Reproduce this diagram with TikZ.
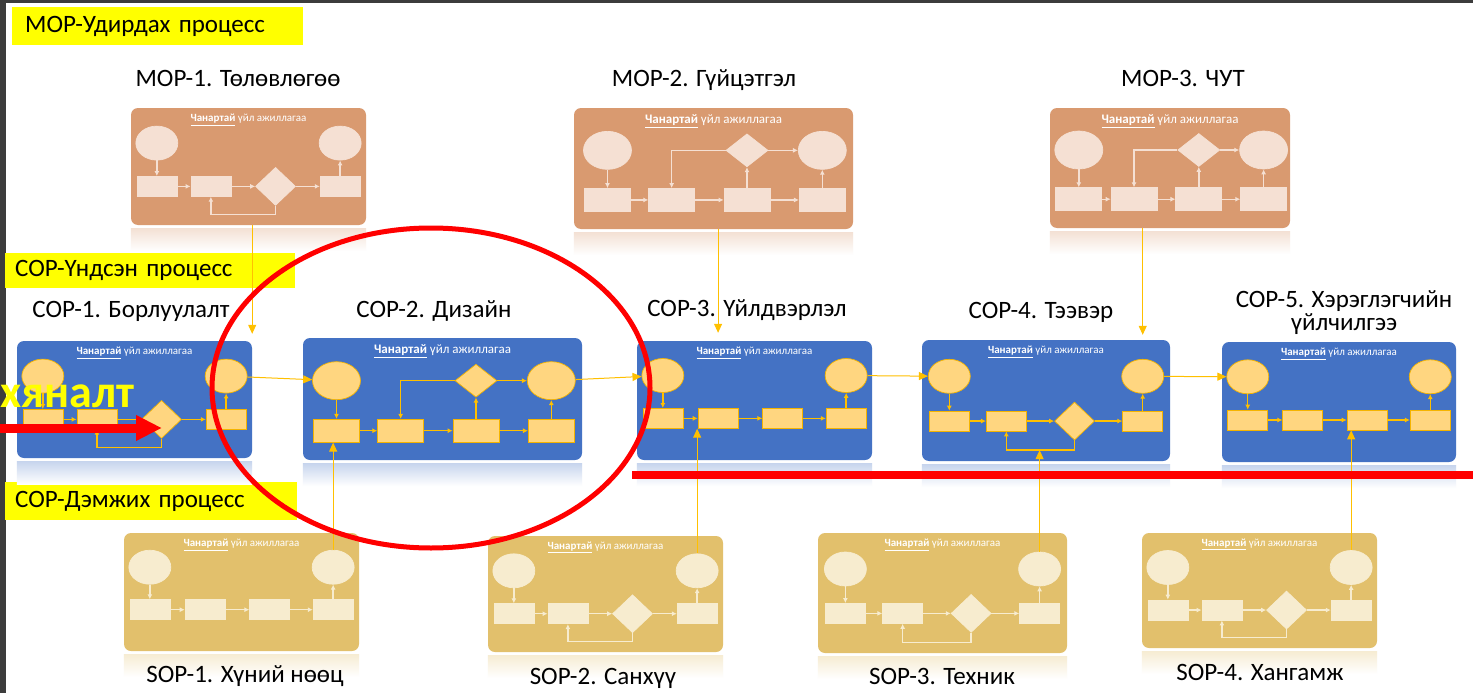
\documentclass[tikz,border=0pt]{standalone}
\usepackage{fontspec}
\setmainfont{Carlito}
\usetikzlibrary{shapes.geometric, arrows.meta, positioning, fit}

\definecolor{mopbg}{HTML}{D99A70}
\definecolor{mopsh}{HTML}{F5E0D3}
\definecolor{mopdr}{HTML}{F5E0D3}
\definecolor{mopln}{HTML}{F5E0D3}
\definecolor{copbg}{HTML}{4472C4}
\definecolor{copsh}{HTML}{FFD680}
\definecolor{copdr}{HTML}{F5B400}
\definecolor{copln}{HTML}{FFC000}
\definecolor{sopbg}{HTML}{E2C06C}
\definecolor{sopsh}{HTML}{F7ECCF}
\definecolor{sopdr}{HTML}{F7ECCF}
\definecolor{sopln}{HTML}{F7ECCF}
\definecolor{linkc}{HTML}{FFC000}
\definecolor{hilite}{HTML}{FFFF00}
\definecolor{edgegray}{HTML}{3C3C3C}

\newcommand\qhead{\underline{\textbf{Чанартай}} үйл ажиллагаа}

\tikzset{
  qbox/.style={inner sep=0pt, rounded corners=7pt},
  qshape/.style={fill=#1sh, draw=#1dr, line width=0.7pt, inner sep=0pt},
  qell/.style={ellipse, minimum width=42pt, minimum height=34pt},
  qrect/.style={rectangle, minimum width=40pt, minimum height=20pt},
  qdia/.style={diamond, minimum width=40pt, minimum height=38pt},
  qellb/.style={ellipse, minimum width=48pt, minimum height=38pt},
  qrectb/.style={rectangle, minimum width=46pt, minimum height=23pt},
  qdiab/.style={diamond, minimum width=42pt, minimum height=33pt},
  qline/.style={draw=#1ln, line width=1.4pt, -{Latex[length=5pt,width=5pt]}},
  qtext/.style={text=white, inner sep=0pt, font=\fontsize{11}{13}\selectfont},
  qshadow/.style={top color=#1bg!30, bottom color=white},
  ttl/.style={font=\fontsize{25}{23}\selectfont, inner sep=0pt},
  tag/.style={fill=hilite, anchor=north west, inner xsep=10pt, inner ysep=0pt,
    align=left, font=\fontsize{25}{26}\selectfont},
  link/.style={draw=linkc, line width=1pt, -{Triangle[length=9pt,width=8pt]}},
  redbar/.style={draw=red, line width=8pt},
  redarrow/.style={draw=red, line width=9pt, -{Triangle[length=26pt,width=24pt]}},
  focus/.style={draw=red, line width=5pt, ellipse, inner sep=0pt,
    minimum width=438pt, minimum height=320pt},
  % ellipse, rects, diamond and a loop back
  flowA/.pic={
    \node[qbox, fit={(0,0)(1,1)}, fill=#1bg] (box) {};
    \shade[qshadow=#1] ([yshift=-3pt]box.south west) rectangle ([yshift=-26pt]box.south east);
    \node[qtext] (head) at (0.5,0.1) {\qhead};
    \node[qell, qshape=#1] (e1) at (0.11,0.3) {};
    \node[qell, qshape=#1] (e2) at (0.89,0.3) {};
    \node[qrect, qshape=#1] (r1) at (0.11,0.67) {};
    \node[qrect, qshape=#1] (r2) at (0.34,0.67) {};
    \node[qdia, qshape=#1] (d) at (0.615,0.67) {};
    \node[qrect, qshape=#1] (r4) at (0.89,0.67) {};
    \coordinate (lp) at (0.48,0.91);
    \draw[qline=#1] (e1) -- (r1);
    \draw[qline=#1] (r1) -- (r2);
    \draw[qline=#1] (r2) -- (d);
    \draw[qline=#1] (d) -- (r4);
    \draw[qline=#1] (r4) -- (e2);
    \draw[qline=#1] (d.south) |- (lp) -| (r2.south);
  },
  % four rects, diamond on top
  flowB/.pic={
    \node[qbox, fit={(0,0)(1,1)}, fill=#1bg] (box) {};
    \shade[qshadow=#1] ([yshift=-3pt]box.south west) rectangle ([yshift=-26pt]box.south east);
    \node[qtext, font=\fontsize{13}{15}\selectfont] (head) at (0.5,0.11) {\qhead};
    \node[qellb, qshape=#1] (e1) at (0.12,0.35) {};
    \node[qellb, qshape=#1] (e2) at (0.89,0.35) {};
    \node[qdiab, qshape=#1] (d) at (0.62,0.35) {};
    \node[qrectb, qshape=#1] (r1) at (0.12,0.76) {};
    \node[qrectb, qshape=#1] (r2) at (0.35,0.76) {};
    \node[qrectb, qshape=#1] (r3) at (0.62,0.76) {};
    \node[qrectb, qshape=#1] (r4) at (0.89,0.76) {};
    \draw[qline=#1] (e1) -- (r1);
    \draw[qline=#1] (r1) -- (r2);
    \draw[qline=#1] (r2) -- (r3);
    \draw[qline=#1] (r3) -- (r4);
    \draw[qline=#1] (r3) -- (d);
    \draw[qline=#1] (d) -- (e2);
    \draw[qline=#1] (r4) -- (e2);
    \draw[qline=#1] (d.west) -| (r2.north);
  },
  % straight chain
  flowD/.pic={
    \node[qbox, fit={(0,0)(1,1)}, fill=#1bg] (box) {};
    \shade[qshadow=#1] ([yshift=-3pt]box.south west) rectangle ([yshift=-26pt]box.south east);
    \node[qtext] (head) at (0.5,0.1) {\qhead};
    \node[qell, qshape=#1] (e1) at (0.11,0.29) {};
    \node[qell, qshape=#1] (e2) at (0.89,0.29) {};
    \node[qrect, qshape=#1] (r1) at (0.11,0.65) {};
    \node[qrect, qshape=#1] (r2) at (0.345,0.65) {};
    \node[qrect, qshape=#1] (r3) at (0.62,0.65) {};
    \node[qrect, qshape=#1] (r4) at (0.89,0.65) {};
    \draw[qline=#1] (e1) -- (r1);
    \draw[qline=#1] (r1) -- (r2);
    \draw[qline=#1] (r2) -- (r3);
    \draw[qline=#1] (r3) -- (r4);
    \draw[qline=#1] (r4) -- (e2);
  }
}

\begin{document}
\begin{tikzpicture}[x=1pt, y=-1pt]
    \useasboundingbox (0,0) rectangle (1473,693);
    \fill[white] (0,0) rectangle (1473,693);
    \fill[edgegray] (0,0) rectangle (6,693);
    \fill[edgegray] (0,0) rectangle (1473,3);

    % group labels
    \node[tag, inner xsep=13pt, text width=265pt, minimum height=38pt] (moptag) at (12,7) {MOP-Удирдах процесс};
    \node[tag, text width=270pt, minimum height=35pt] (coptag) at (5,253) {COP-Үндсэн процесс};
    \node[tag, text width=272pt, minimum height=38pt] (soptag) at (5,482) {COP-Дэмжих процесс};

    % titles
    \node[ttl, anchor=base] (mop1t) at (238,86) {MOP-1. Төлөвлөгөө};
    \node[ttl, anchor=base] (mop2t) at (704,87) {MOP-2. Гүйцэтгэл};
    \node[ttl, anchor=base] (mop3t) at (1183,87) {MOP-3. ЧУТ};
    \node[ttl, anchor=base] (cop1t) at (131,317) {COP-1. Борлуулалт};
    \node[ttl, anchor=base] (cop2t) at (434,317) {COP-2. Дизайн};
    \node[ttl, anchor=base] (cop3t) at (747,316) {COP-3. Үйлдвэрлэл};
    \node[ttl, anchor=base] (cop4t) at (1041,318) {COP-4. Тээвэр};
    \node[ttl, align=center] (cop5t) at (1344,313) {COP-5. Хэрэглэгчийн\\үйлчилгээ};

    % process boxes
    \pic[x=235pt, y=-117pt] (mop1) at (131pt,-108pt) {flowA=mop};
    \pic[x=279pt, y=-121pt] (mop2) at (574pt,-108pt) {flowB=mop};
    \pic[x=240pt, y=-120pt] (mop3) at (1050pt,-108pt) {flowB=mop};
    \pic[x=235pt, y=-117pt] (cop1) at (17pt,-341pt) {flowA=cop};
    \pic[x=279pt, y=-122pt] (cop2) at (303pt,-338pt) {flowB=cop};
    \pic[x=235pt, y=-119pt] (cop3) at (637pt,-341pt) {flowD=cop};
    \pic[x=248pt, y=-121pt] (cop4) at (922pt,-340pt) {flowA=cop};
    \pic[x=234pt, y=-120pt] (cop5) at (1222pt,-342pt) {flowD=cop};
    \pic[x=235pt, y=-118pt] (sop1) at (124pt,-533pt) {flowD=sop};
    \pic[x=235pt, y=-116pt] (sop2) at (488pt,-536pt) {flowA=sop};
    \pic[x=249pt, y=-120pt] (sop3) at (818pt,-533pt) {flowA=sop};
    \pic[x=235pt, y=-115pt] (sop4) at (1142pt,-533pt) {flowA=sop};

    \node[ttl, anchor=base] (sop1t) at (245,682) {SOP-1. Хүний нөөц};
    \node[ttl, anchor=base] (sop2t) at (603,684) {SOP-2. Санхүү};
    \node[ttl, anchor=base] (sop3t) at (942,684) {SOP-3. Техник};
    \node[ttl, anchor=base] (sop4t) at (1260,680) {SOP-4. Хангамж};

    % links between processes
    \draw[link, shorten >=7pt] (mop1box.south -| cop1box.east) -- (cop1box.north east);
    \draw[link, shorten >=8pt] (mop2box.south -| cop3r2) -- (cop3box.north -| cop3r2);
    \draw[link, shorten >=5pt] (mop3box.south -| cop4e2) -- (cop4box.north -| cop4e2);
    \draw[link] (cop1e2) -- (cop2e1);
    \draw[link] (cop2e2) -- (cop3e1);
    \draw[link] (cop3e2) -- (cop4e1);
    \draw[link] (cop4e2) -- (cop5e1);
    \draw[link] (sop1e2.north) -- (sop1e2.north |- cop2r1.south);
    \draw[link] (sop2e2.north) -- (sop2e2.north |- cop3r2.south);
    \draw[link] (sop3e2.north) -- (sop3e2.north |- cop4lp);
    \draw[link] (sop4e2.north) -- (sop4e2.north |- cop5r3.south);

    % red marks
    \node[focus] (focus) at (431,388) {};
    \coordinate (barl) at (632,475);
    \coordinate (barr) at (1480,475);
    \draw[redbar] (barl) -- (barr);
    \node[font=\bfseries\fontsize{46}{50}\selectfont, text=hilite, anchor=base west, inner sep=0pt] (ctrl) at (0,407) {хяналт};
    \coordinate (ctrlfrom) at (-10,428);
    \coordinate (ctrlto) at (162,428);
    \draw[redarrow] (ctrlfrom) -- (ctrlto);
\end{tikzpicture}
\end{document}
